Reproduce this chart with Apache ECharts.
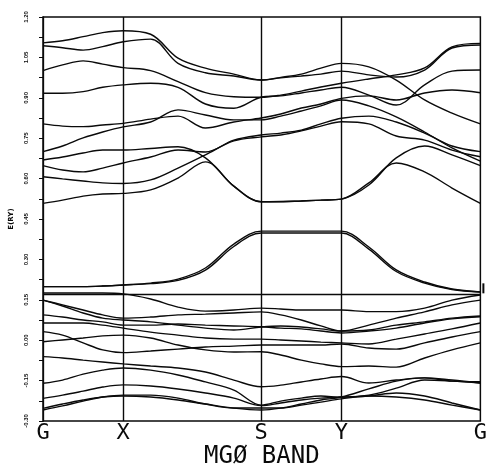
<!DOCTYPE html>
<html><head><meta charset="utf-8">
<script src="https://cdn.jsdelivr.net/npm/echarts@6/dist/echarts.min.js"></script>
<style>html,body{margin:0;padding:0;background:#fff}#c{width:490px;height:467px}</style>
</head><body><div id="c"></div>
<script>
// k-path sample positions (arbitrary length units along G-X-S-Y-G)
const kPath = [0,20,41,61,82, 110,138,166,195,223, 243,264,284,305, 333,361,390,418,447];
const symPos = [0,82,223,305,447];
const symLabels = ['G','X','S','Y','G'];
const fermiLevel = 0.174;
const chartTitle = 'MGØ BAND';
const yName = 'E(RY)';

// upper (conduction) bands, energies in Ry
const bandU1 = [1.104,1.112,1.127,1.142,1.149, 1.136,1.047,1.010,0.988,0.966, 0.976,0.988,1.010,1.028, 1.015,0.966,0.892,0.843,0.803];
const bandU2 = [1.093,1.086,1.077,1.090,1.108, 1.118,1.028,0.993,0.981,0.966, 0.974,0.981,0.988,0.999, 0.985,0.977,1.003,1.085,1.096];
const bandU3 = [1.001,1.022,1.037,1.025,1.012, 1.001,0.960,0.919,0.904,0.902, 0.910,0.925,0.940,0.954, 0.970,0.985,1.011,1.089,1.102];
const bandU4 = [0.917,0.917,0.923,0.939,0.948, 0.954,0.939,0.877,0.861,0.902, 0.907,0.918,0.929,0.939, 0.910,0.873,0.948,0.999,1.003];
const bandU5 = [0.803,0.795,0.793,0.799,0.805, 0.821,0.832,0.788,0.810,0.825, 0.840,0.862,0.877,0.898, 0.907,0.892,0.918,0.929,0.919];
const bandU6 = [0.700,0.721,0.751,0.773,0.792, 0.810,0.855,0.836,0.818,0.818, 0.832,0.851,0.870,0.892, 0.870,0.829,0.773,0.714,0.665];
const bandU7 = [0.669,0.680,0.695,0.706,0.706, 0.712,0.718,0.677,0.572,0.514, 0.515,0.517,0.520,0.524, 0.576,0.677,0.721,0.688,0.648];
const bandU8 = [0.648,0.632,0.625,0.639,0.658, 0.680,0.706,0.699,0.743,0.762, 0.769,0.780,0.803,0.824, 0.832,0.810,0.769,0.721,0.700];
const bandU9 = [0.607,0.599,0.591,0.584,0.582, 0.595,0.639,0.688,0.740,0.755, 0.762,0.777,0.795,0.811, 0.803,0.758,0.743,0.706,0.681];
const bandU10 = [0.508,0.520,0.535,0.543,0.545, 0.558,0.602,0.662,0.572,0.514, 0.514,0.517,0.520,0.524, 0.584,0.658,0.625,0.565,0.508];
// lowest conduction band (pair)
const bandC1 = [0.199,0.199,0.199,0.201,0.205, 0.212,0.227,0.268,0.357,0.405, 0.405,0.405,0.405,0.405, 0.346,0.261,0.216,0.190,0.179];
const bandC2 = [0.199,0.199,0.199,0.201,0.205, 0.210,0.222,0.260,0.348,0.398, 0.398,0.398,0.398,0.398, 0.338,0.255,0.212,0.188,0.179];
// valence bands
const bandV1 = [0.175,0.175,0.175,0.175,0.172, 0.153,0.123,0.108,0.112,0.119, 0.116,0.112,0.112,0.112, 0.106,0.106,0.119,0.149,0.168];
const bandV2 = [0.149,0.131,0.112,0.094,0.082, 0.086,0.094,0.097,0.101,0.105, 0.094,0.075,0.053,0.034, 0.056,0.082,0.105,0.131,0.149];
const bandV3 = [0.094,0.086,0.075,0.068,0.056, 0.056,0.060,0.056,0.053,0.050, 0.045,0.042,0.034,0.027, 0.034,0.045,0.064,0.079,0.087];
const bandV4 = [0.064,0.064,0.064,0.056,0.045, 0.030,0.019,0.008,0.004,0.004, 0.001,-0.003,-0.007,-0.010, -0.014,0.004,0.023,0.042,0.064];
const bandV5 = [0.032,0.019,-0.010,-0.036,-0.046, -0.040,-0.033,-0.025,-0.022,-0.018, -0.018,-0.018,-0.018,-0.014, -0.029,-0.033,-0.010,0.012,0.032];
const bandV6 = [-0.006,0.001,0.008,0.016,0.019, 0.008,-0.018,-0.036,-0.044,-0.043, -0.055,-0.074,-0.088,-0.098, -0.096,-0.100,-0.066,-0.036,-0.010];
const bandV7 = [-0.061,-0.066,-0.074,-0.081,-0.088, -0.096,-0.103,-0.118,-0.148,-0.173, -0.167,-0.155,-0.144,-0.135, -0.159,-0.148,-0.140,-0.152,-0.154];
const bandV8 = [-0.160,-0.148,-0.126,-0.111,-0.103, -0.111,-0.129,-0.155,-0.185,-0.241, -0.226,-0.215,-0.207,-0.212, -0.204,-0.178,-0.148,-0.152,-0.159];
const bandV9 = [-0.216,-0.204,-0.189,-0.174,-0.166, -0.170,-0.181,-0.196,-0.215,-0.243, -0.233,-0.222,-0.215,-0.211, -0.207,-0.196,-0.207,-0.233,-0.259];
const bandV10 = [-0.253,-0.237,-0.222,-0.211,-0.207, -0.211,-0.222,-0.237,-0.252,-0.259, -0.252,-0.237,-0.222,-0.211, -0.181,-0.152,-0.140,-0.148,-0.159];
const bandV11 = [-0.259,-0.244,-0.226,-0.211,-0.204, -0.204,-0.215,-0.237,-0.252,-0.252, -0.252,-0.241,-0.230,-0.218, -0.207,-0.211,-0.222,-0.241,-0.259];
const bandV12 = [0.149,0.127,0.101,0.082,0.075, 0.068,0.056,0.045,0.038,0.049, 0.053,0.049,0.042,0.034, 0.038,0.056,0.068,0.082,0.090];

const bands = [bandU1,bandU2,bandU3,bandU4,bandU5,bandU6,bandU7,bandU8,bandU9,bandU10,
  bandC1,bandC2,bandV1,bandV2,bandV3,bandV4,bandV5,bandV6,bandV7,bandV8,bandV9,bandV10,bandV11,bandV12];

const ink = '#0a0a0a';
const series = bands.map((b) => ({
  type: 'line', data: kPath.map((k, i) => [k, b[i]]), smooth: 0.35,
  showSymbol: false, silent: true, lineStyle: { color: ink, width: 1.4 }
}));
series.push({
  type: 'line', data: [], silent: true,
  markLine: {
    symbol: 'none', silent: true, label: { show: false },
    lineStyle: { color: ink, width: 1.4, type: 'solid' },
    data: [ ...symPos.slice(1, 4).map(x => ({ xAxis: x })), { yAxis: fermiLevel } ]
  },
  markPoint: {
    silent: true, symbol: 'rect', symbolSize: [2, 10], symbolOffset: [3, -5],
    itemStyle: { color: ink }, label: { show: false },
    data: [ { coord: [symPos[4], fermiLevel] } ]
  }
});

const chart = echarts.init(document.getElementById('c'), null, { renderer: 'canvas' });
chart.setOption({
  animation: false,
  backgroundColor: '#fff',
  title: { text: chartTitle, left: 199, top: 440,
    textStyle: { fontFamily: 'DejaVu Sans Mono', fontSize: 24, fontWeight: 'normal', color: ink } },
  grid: { left: 39, right: 4, top: 17, bottom: 46, show: true, borderColor: ink, borderWidth: 1.5, backgroundColor: 'transparent' },
  xAxis: {
    type: 'value', min: 0, max: 447,
    axisLine: { show: false }, axisTick: { show: false }, splitLine: { show: false },
    axisLabel: { customValues: symPos, margin: 1, fontFamily: 'DejaVu Sans Mono', fontSize: 22, color: ink,
      formatter: (v) => symLabels[symPos.indexOf(v)] }
  },
  yAxis: {
    type: 'value', min: -0.30, max: 1.20, interval: 0.15, offset: 11,
    name: yName, nameLocation: 'middle', nameGap: 17, nameRotate: 90,
    nameTextStyle: { fontSize: 7, fontFamily: 'DejaVu Sans', fontWeight: 'bold', color: ink },
    axisLine: { show: true, lineStyle: { color: ink, width: 1.3 } },
    axisTick: { show: true, length: 4, lineStyle: { color: ink } },
    minorTick: { show: true, splitNumber: 2, length: 4, lineStyle: { color: ink } },
    splitLine: { show: false },
    axisLabel: { rotate: 90, margin: 3, fontSize: 6, fontWeight: 'bold', color: ink,
      formatter: (v) => v.toFixed(2) }
  },
  series: series
});
</script></body></html>
